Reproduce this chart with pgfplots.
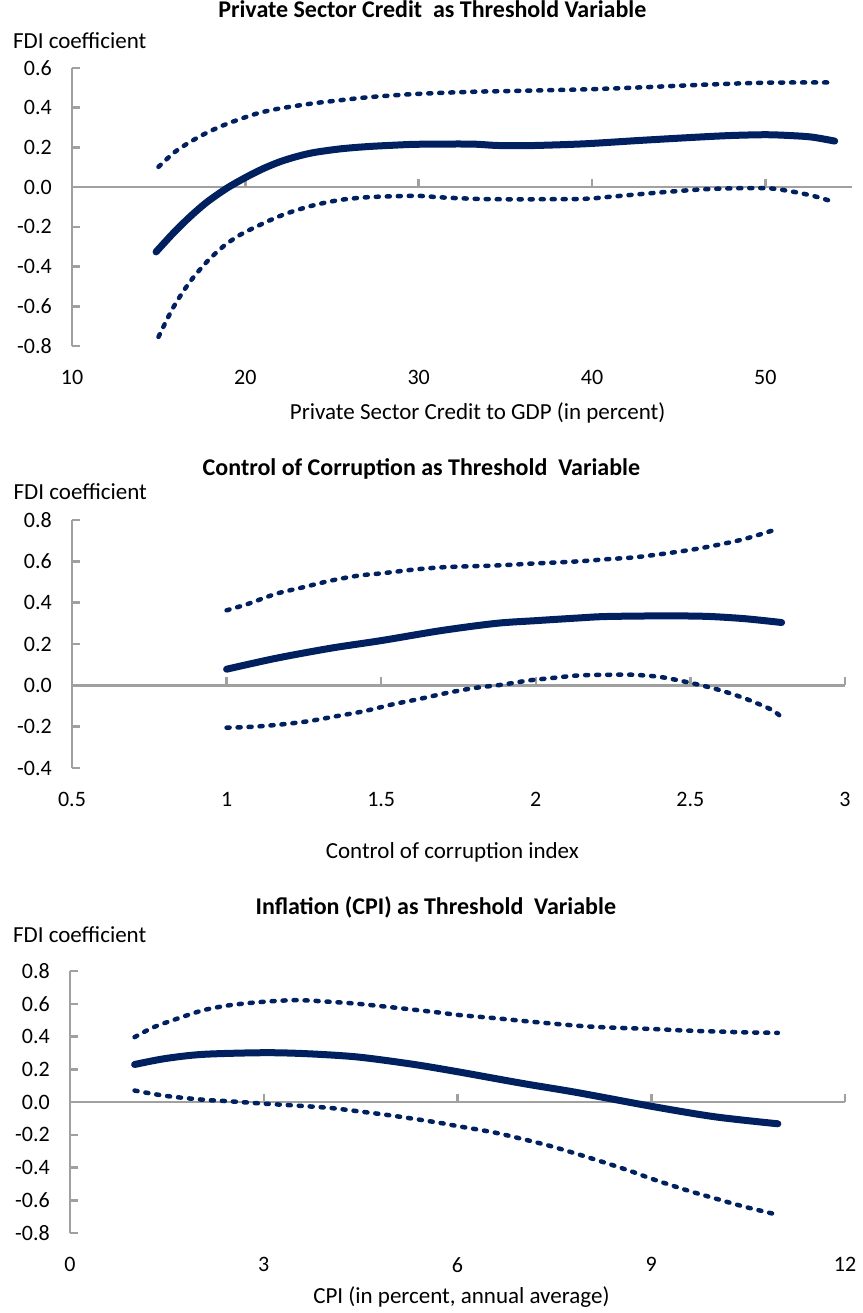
\documentclass[border=0pt]{standalone}
\usepackage{fontspec}
\setmainfont{Carlito}
\usepackage{pgfplots}
\pgfplotsset{compat=1.18}
\definecolor{navy}{RGB}{0,32,96}
\definecolor{axgray}{RGB}{160,160,160}

\pgfplotstableread{
x y
14.85 -0.326
15.86 -0.230
16.82 -0.148
17.79 -0.075
18.94 -0.005
20.00 0.048
21.00 0.092
22.00 0.128
23.00 0.155
24.00 0.175
25.50 0.193
27.00 0.204
28.50 0.211
30.00 0.216
33.00 0.217
34.50 0.210
36.30 0.209
39.50 0.218
42.70 0.235
45.90 0.251
48.00 0.260
50.00 0.264
51.40 0.260
52.70 0.252
54.00 0.232
}\pcmid
\pgfplotstableread{
x y
14.99 0.102
15.90 0.175
16.82 0.228
17.80 0.275
18.75 0.312
19.70 0.343
20.68 0.371
21.60 0.390
22.60 0.405
24.00 0.423
25.50 0.438
27.00 0.452
28.50 0.462
30.00 0.470
33.00 0.480
36.30 0.486
39.50 0.492
42.70 0.502
45.90 0.514
50.00 0.526
54.00 0.527
}\pcup
\pgfplotstableread{
x y
14.99 -0.754
15.86 -0.603
16.82 -0.475
17.79 -0.375
18.75 -0.297
19.70 -0.240
20.68 -0.197
21.60 -0.160
22.60 -0.126
24.00 -0.090
25.50 -0.064
27.00 -0.051
28.50 -0.046
30.00 -0.044
31.40 -0.052
33.70 -0.060
36.30 -0.061
39.50 -0.059
41.10 -0.048
44.30 -0.024
46.90 -0.009
50.00 -0.005
51.40 -0.020
52.80 -0.045
54.00 -0.076
}\pclo

\pgfplotstableread{
x y
1.000 0.078
1.160 0.131
1.338 0.180
1.502 0.217
1.694 0.265
1.872 0.300
2.000 0.313
2.138 0.326
2.227 0.333
2.405 0.336
2.547 0.334
2.672 0.323
2.795 0.304
}\ccmid
\pgfplotstableread{
x y
1.000 0.363
1.071 0.395
1.160 0.443
1.249 0.475
1.338 0.507
1.427 0.531
1.502 0.542
1.605 0.560
1.694 0.571
1.783 0.576
1.872 0.580
2.000 0.590
2.138 0.600
2.227 0.610
2.316 0.619
2.405 0.635
2.503 0.656
2.583 0.678
2.672 0.707
2.761 0.747
2.783 0.758
}\ccup
\pgfplotstableread{
x y
1.000 -0.205
1.089 -0.200
1.178 -0.189
1.267 -0.173
1.356 -0.149
1.445 -0.125
1.534 -0.093
1.623 -0.066
1.712 -0.037
1.801 -0.013
1.890 0.003
1.979 0.024
2.050 0.035
2.138 0.048
2.227 0.051
2.316 0.051
2.405 0.040
2.503 0.011
2.583 -0.018
2.672 -0.061
2.761 -0.117
2.797 -0.157
}\cclo

\pgfplotstableread{
x y
1.00 0.229
1.47 0.265
2.06 0.291
3.00 0.301
3.66 0.295
4.45 0.275
5.30 0.231
6.00 0.185
7.00 0.114
7.85 0.058
9.00 -0.026
9.98 -0.090
10.96 -0.133
}\icmid
\pgfplotstableread{
x y
1.00 0.396
1.29 0.456
1.64 0.506
2.06 0.560
2.49 0.592
3.00 0.612
3.51 0.622
4.02 0.612
4.45 0.600
5.04 0.576
5.72 0.546
6.00 0.532
6.58 0.512
7.10 0.492
7.85 0.466
8.28 0.456
9.00 0.446
9.56 0.436
10.41 0.426
10.96 0.422
}\icup
\pgfplotstableread{
x y
1.00 0.070
1.47 0.038
2.06 0.014
2.49 0.004
3.00 -0.010
3.51 -0.022
4.02 -0.036
4.45 -0.056
5.04 -0.086
5.72 -0.127
6.00 -0.147
6.58 -0.187
7.10 -0.235
7.43 -0.268
7.85 -0.317
8.28 -0.370
8.71 -0.426
9.00 -0.468
9.56 -0.540
9.98 -0.588
10.41 -0.636
10.96 -0.689
}\iclo

\pgfplotsset{
  fdi/.style={
    scale only axis, anchor=south west, clip=false,
    axis x line*=bottom, axis y line*=left,
    x axis line style={draw=none},
    y axis line style={draw=axgray, line width=2.5pt},
    xtick style={draw=none},
    ytick style={draw=axgray, line width=2.5pt},
    tick align=inside, major tick length=8pt,
    tick label style={font=\fontsize{22}{26}\selectfont, /pgf/number format/assume math mode=true},
    yticklabel style={anchor=east, inner sep=0pt, xshift=-20pt,
      /pgf/number format/fixed, /pgf/number format/fixed zerofill, /pgf/number format/precision=1},
    xticklabel style={anchor=north, inner sep=0pt, yshift=-24pt},
    xlabel style={font=\fontsize{23}{27}\selectfont},
    title style={font=\bfseries\fontsize{24}{28}\selectfont, anchor=center},
    every axis y label/.style={anchor=west, font=\fontsize{23}{27}\selectfont},
    ylabel={FDI coefficient},
  },
  mid/.style={navy, line width=7pt, smooth, line cap=round},
  band/.style={navy, line width=4.5pt, smooth, line cap=round, dash pattern=on 3pt off 8pt},
}

\begin{document}
\begin{tikzpicture}
\useasboundingbox (0,0) rectangle (862pt,-1313pt);

% Panel 1
\begin{axis}[fdi,
  at={(72pt,-346pt)}, width=780pt, height=278pt,
  xmin=10, xmax=55, ymin=-0.8, ymax=0.6,
  xtick={10,20,30,40,50}, ytick={-0.8,-0.6,...,0.61},
  title={Private Sector Credit\ \ as Threshold Variable},
  title style={at={(0.462,1.19)}},
  xlabel={Private Sector Credit to GDP (in percent)},
  xlabel style={at={(0.52,-0.241)}, anchor=center},
  ylabel style={at={(-0.080,1.10)}},
]
\draw[axgray, line width=2.5pt] (axis cs:10,0) -- (axis cs:55,0);
\foreach \t in {20,30,40,50} {\edef\tmp{\noexpand\draw[axgray, line width=2.5pt] (axis cs:\t,0) -- ++(0pt,8pt);}\tmp}
\addplot[band] table {\pcup};
\addplot[band] table {\pclo};
\addplot[mid] table {\pcmid};
\end{axis}

% Panel 2
\begin{axis}[fdi,
  at={(72pt,-768pt)}, width=773pt, height=248pt,
  xmin=0.5, xmax=3, ymin=-0.4, ymax=0.8,
  xtick={0.5,1,1.5,2,2.5,3}, ytick={-0.4,-0.2,...,0.81},
  title={Control of Corruption as Threshold\ \ Variable},
  title style={at={(0.452,1.181)}},
  xlabel={Control of corruption index},
  xlabel style={at={(0.492,-0.339)}, anchor=center},
  ylabel style={at={(-0.080,1.113)}},
]
\draw[axgray, line width=2.5pt] (axis cs:0.5,0) -- (axis cs:3,0);
\foreach \t in {1,1.5,2,2.5,3} {\edef\tmp{\noexpand\draw[axgray, line width=2.5pt] (axis cs:\t,0) -- ++(0pt,8pt);}\tmp}
\addplot[band] table {\ccup};
\addplot[band] table {\cclo};
\addplot[mid] table {\ccmid};
\end{axis}

% Panel 3
\begin{axis}[fdi,
  at={(70pt,-1233pt)}, width=775pt, height=262pt,
  xmin=0, xmax=12, ymin=-0.8, ymax=0.8,
  xtick={0,3,6,9,12}, ytick={-0.8,-0.6,...,0.81},
  title={Inflation (CPI) as Threshold\ \ Variable},
  title style={at={(0.472,1.221)}},
  xlabel={CPI (in percent, annual average)},
  xlabel style={at={(0.505,-0.244)}, anchor=center},
  ylabel style={at={(-0.078,1.137)}},
]
\draw[axgray, line width=2.5pt] (axis cs:0,0) -- (axis cs:12,0);
\foreach \t in {3,6,9,12} {\edef\tmp{\noexpand\draw[axgray, line width=2.5pt] (axis cs:\t,0) -- ++(0pt,8pt);}\tmp}
\addplot[band] table {\icup};
\addplot[band] table {\iclo};
\addplot[mid] table {\icmid};
\end{axis}
\end{tikzpicture}
\end{document}
